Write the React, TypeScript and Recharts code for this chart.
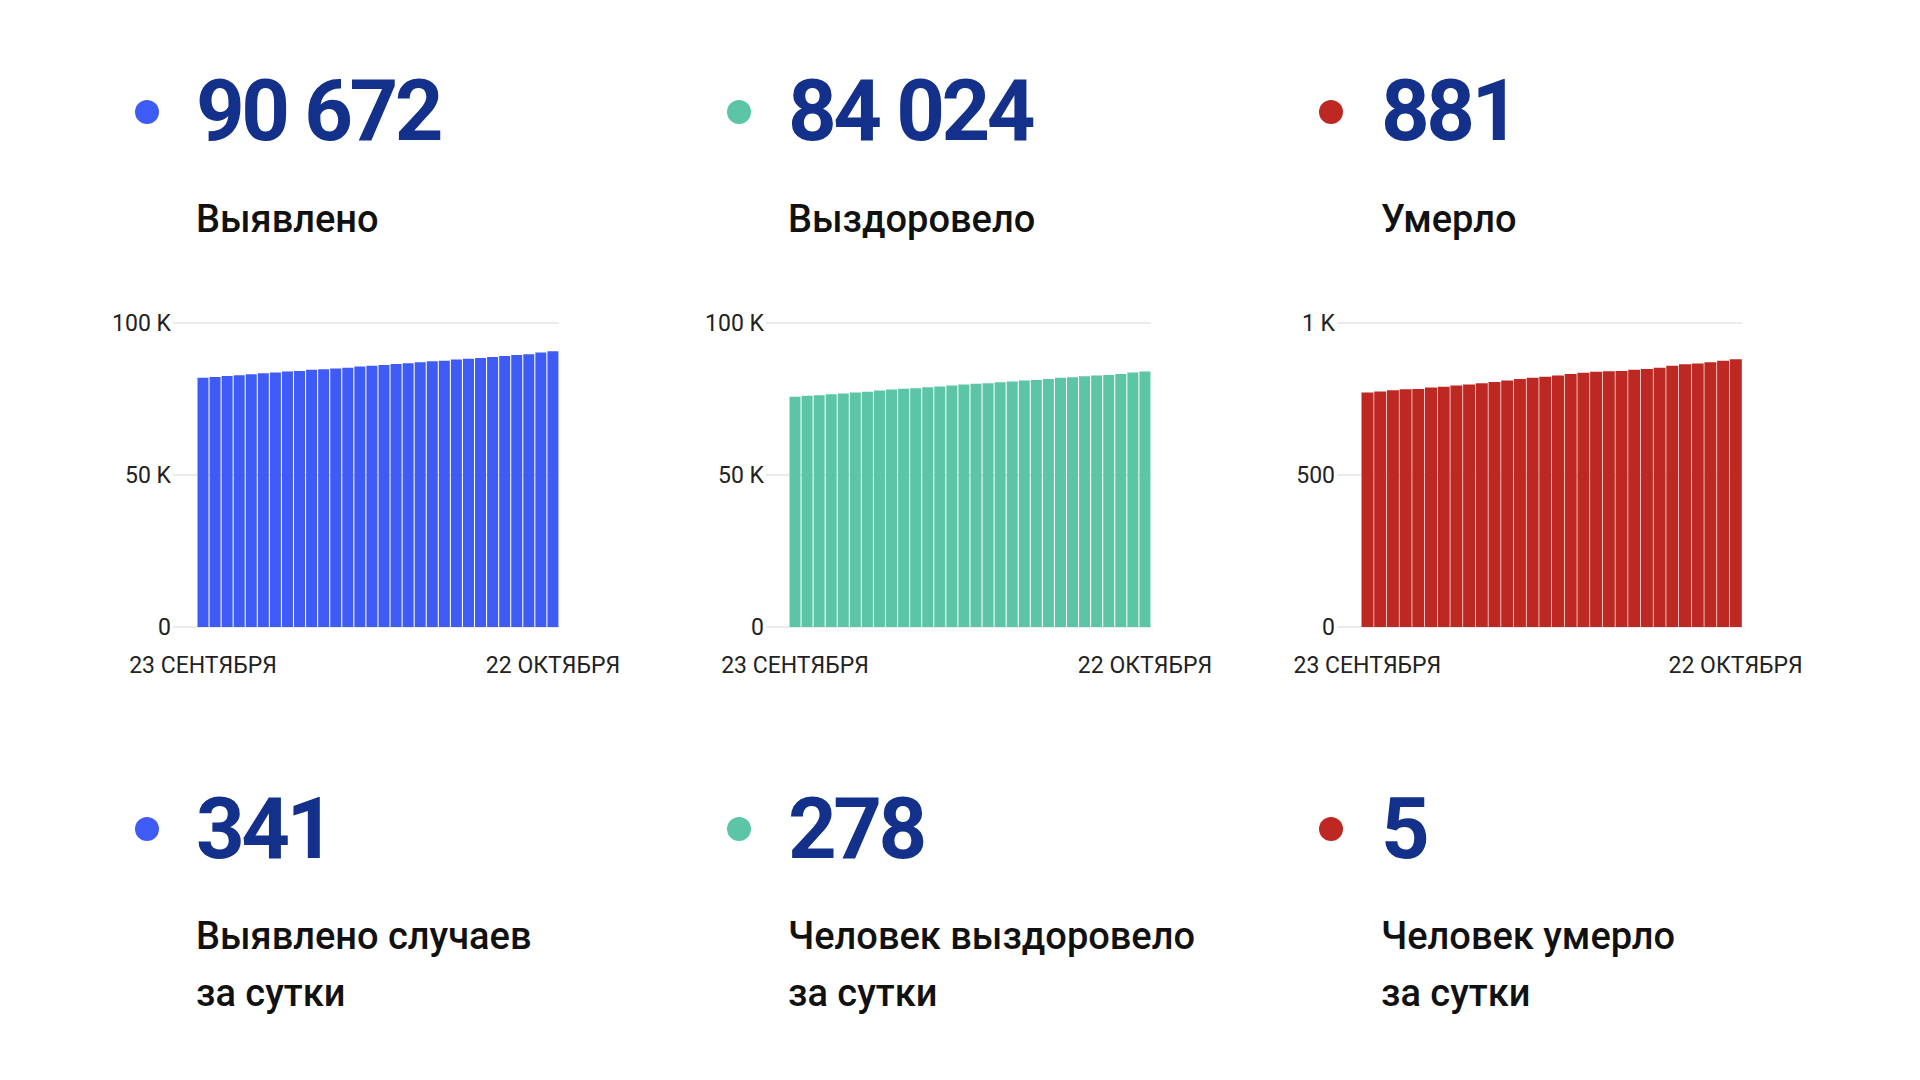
import React from 'react'
import { BarChart, Bar, XAxis, YAxis, CartesianGrid } from 'recharts'

const dates = [
  '23 СЕНТЯБРЯ', '24 СЕНТЯБРЯ', '25 СЕНТЯБРЯ', '26 СЕНТЯБРЯ', '27 СЕНТЯБРЯ', '28 СЕНТЯБРЯ',
  '29 СЕНТЯБРЯ', '30 СЕНТЯБРЯ', '1 ОКТЯБРЯ', '2 ОКТЯБРЯ', '3 ОКТЯБРЯ', '4 ОКТЯБРЯ',
  '5 ОКТЯБРЯ', '6 ОКТЯБРЯ', '7 ОКТЯБРЯ', '8 ОКТЯБРЯ', '9 ОКТЯБРЯ', '10 ОКТЯБРЯ',
  '11 ОКТЯБРЯ', '12 ОКТЯБРЯ', '13 ОКТЯБРЯ', '14 ОКТЯБРЯ', '15 ОКТЯБРЯ', '16 ОКТЯБРЯ',
  '17 ОКТЯБРЯ', '18 ОКТЯБРЯ', '19 ОКТЯБРЯ', '20 ОКТЯБРЯ', '21 ОКТЯБРЯ', '22 ОКТЯБРЯ'
]

const cases = [
  81950, 82270, 82590, 82800, 83140, 83480, 83700, 84010, 84250, 84590,
  84810, 85020, 85320, 85680, 85900, 86210, 86520, 86790, 87100, 87400,
  87620, 87960, 88200, 88510, 88820, 89160, 89480, 89730, 90331, 90672
]

const recovered = [
  75710, 76040, 76260, 76590, 76810, 77130, 77350, 77790, 78120, 78340,
  78560, 78880, 79100, 79430, 79760, 79980, 80200, 80530, 80740, 81070,
  81290, 81620, 81950, 82170, 82490, 82710, 82930, 83260, 83746, 84024
]

const deaths = [
  771, 775, 779, 782, 783, 788, 790, 794, 798, 802,
  806, 811, 816, 820, 823, 827, 832, 836, 840, 841,
  842, 846, 849, 853, 859, 864, 867, 871, 876, 881
]

const totals = ['90 672', '84 024', '881']
const totalLabels = ['Выявлено', 'Выздоровело', 'Умерло']
const daily = ['341', '278', '5']
const dailyLabels = [
  ['Выявлено случаев', 'за сутки'],
  ['Человек выздоровело', 'за сутки'],
  ['Человек умерло', 'за сутки']
]

const COLORS = ['#3f5bf6', '#5bc5a5', '#bd2823']
const NAVY = '#13308a'
const FONT = 'Roboto, "Noto Sans", sans-serif'

// column x positions: dot center, text left
const dotX = [147, 739, 1331]
const textX = [196, 788, 1381]

function fmtK(v: number): string {
  if (v === 0) return '0'
  if (v >= 1000) return `${v / 1000} K`
  return String(v)
}

interface StatChartProps {
  values: number[]
  color: string
  max: number
  left: number
  width: number
  padLeft: number
}

function StatChart({ values, color, max, left, width, padLeft }: StatChartProps): React.JSX.Element {
  const data = dates.map((date, i) => ({ date, value: values[i] }))
  return (
    <div style={{ position: 'absolute', left, top: 300 }}>
      <BarChart
        width={width}
        height={387}
        data={data}
        margin={{ top: 23, right: 80, left: 0, bottom: 0 }}
        barCategoryGap={0.5}
      >
        <CartesianGrid vertical={false} stroke="#ebebeb" strokeWidth={2} />
        <XAxis
          dataKey="date"
          ticks={[dates[0], dates[dates.length - 1]]}
          interval={0}
          tickLine={false}
          axisLine={false}
          tickSize={0}
          tickMargin={30}
          height={60}
          padding={{ left: padLeft, right: 0 }}
          tick={{ fill: '#222', fontSize: 23, fontFamily: FONT }}
        />
        <YAxis
          domain={[0, max]}
          ticks={[0, max / 2, max]}
          tickFormatter={fmtK}
          tickLine={false}
          axisLine={false}
          tickSize={0}
          tickMargin={2}
          width={80}
          tick={{ fill: '#222', fontSize: 23, fontFamily: FONT }}
        />
        <Bar dataKey="value" fill={color} isAnimationActive={false} />
      </BarChart>
    </div>
  )
}

function Dot({ x, y, color }: { x: number; y: number; color: string }): React.JSX.Element {
  return (
    <div
      style={{
        position: 'absolute',
        left: x - 12,
        top: y - 12,
        width: 24,
        height: 24,
        borderRadius: '50%',
        background: color
      }}
    />
  )
}

const bigNum: React.CSSProperties = {
  position: 'absolute',
  fontFamily: FONT,
  fontWeight: 700,
  fontSize: 85,
  lineHeight: '85px',
  letterSpacing: -3.5,
  color: NAVY,
  whiteSpace: 'nowrap'
}

const label: React.CSSProperties = {
  position: 'absolute',
  fontFamily: FONT,
  fontWeight: 500,
  fontSize: 38,
  color: '#111',
  whiteSpace: 'nowrap'
}

export default function App(): React.JSX.Element {
  return (
    <div style={{ position: 'absolute', left: 0, top: 0, width: 1920, height: 1080, background: '#fff', overflow: 'hidden' }}>
      {[0, 1, 2].map((i) => (
        <React.Fragment key={i}>
          <Dot x={dotX[i]} y={112} color={COLORS[i]} />
          <div style={{ ...bigNum, left: textX[i], top: 69 }}>{totals[i]}</div>
          <div style={{ ...label, left: textX[i], top: 200, lineHeight: '38px' }}>{totalLabels[i]}</div>

          <Dot x={dotX[i]} y={829} color={COLORS[i]} />
          <div style={{ ...bigNum, left: textX[i], top: 787 }}>{daily[i]}</div>
          <div style={{ ...label, left: textX[i], top: 908, lineHeight: '57px' }}>
            {dailyLabels[i][0]}
            <br />
            {dailyLabels[i][1]}
          </div>
        </React.Fragment>
      ))}

      <StatChart values={cases} color={COLORS[0]} max={100000} left={93} width={546} padLeft={24} />
      <StatChart values={recovered} color={COLORS[1]} max={100000} left={686} width={545} padLeft={23} />
      <StatChart values={deaths} color={COLORS[2]} max={1000} left={1257} width={565} padLeft={24} />
    </div>
  )
}
